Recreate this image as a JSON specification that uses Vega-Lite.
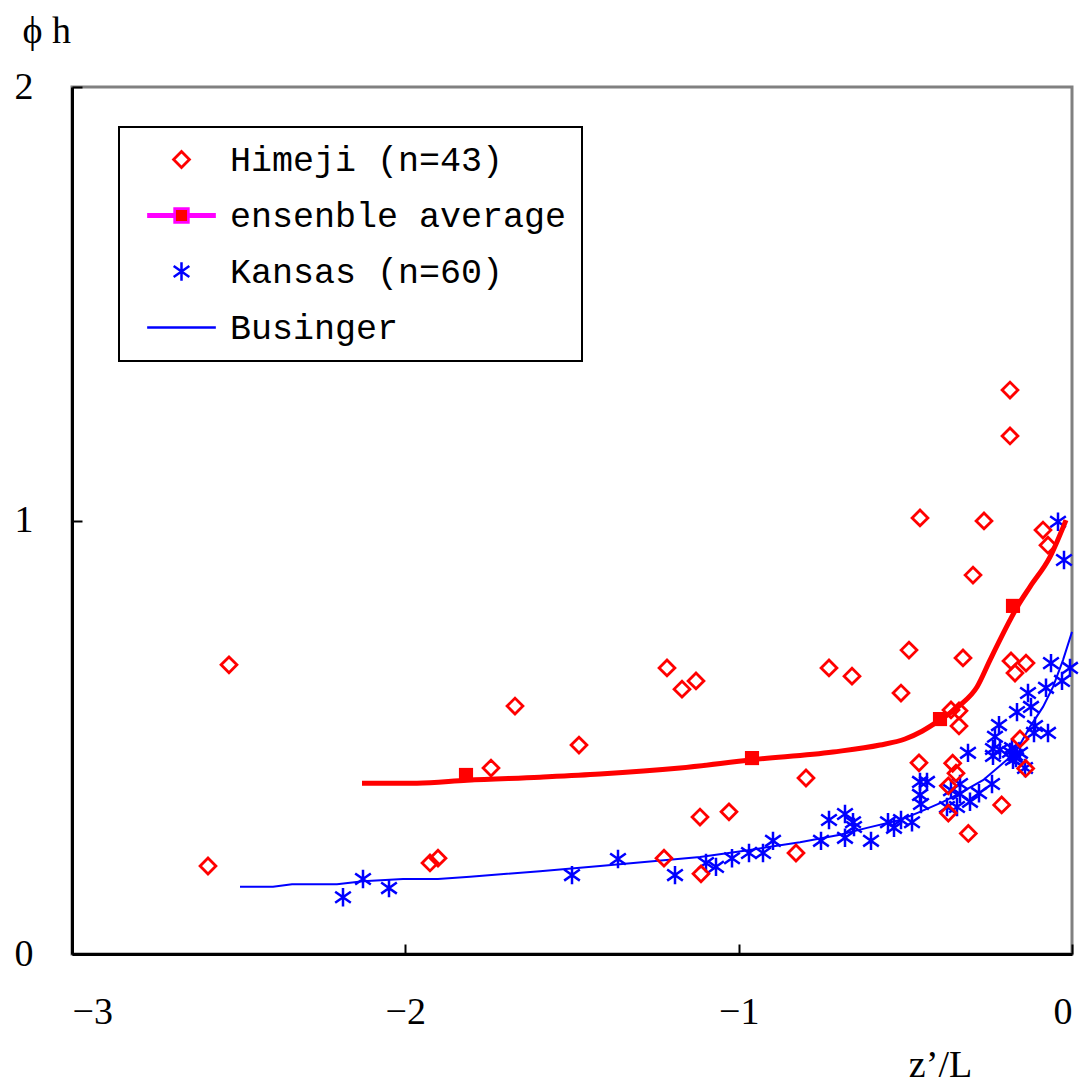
{
  "$schema": "https://vega.github.io/schema/vega-lite/v6.json",
  "width": 1000,
  "height": 867,
  "autosize": "none",
  "padding": {"left": 72, "top": 87, "right": 11, "bottom": 134},
  "background": "white",
  "config": {
    "view": {"stroke": "#808080", "strokeWidth": 3},
    "legend": {"strokeWidth": 2},
    "axis": {
      "grid": false,
      "domainColor": "black",
      "domainWidth": 3,
      "tickColor": "black",
      "tickWidth": 2,
      "tickSize": -10,
      "labelOverlap": false,
      "labelFont": "Liberation Serif",
      "labelFontSize": 38,
      "labelColor": "black",
      "titleFont": "Liberation Serif",
      "titleFontSize": 38,
      "titleFontWeight": "normal",
      "titleColor": "black"
    }
  },
  "datasets": {
    "himeji": [
      {"zL": -2.529, "phi": 0.667}, {"zL": -2.592, "phi": 0.203}, {"zL": -1.743, "phi": 0.429},
      {"zL": -1.671, "phi": 0.572}, {"zL": -1.479, "phi": 0.482}, {"zL": -1.926, "phi": 0.210},
      {"zL": -1.902, "phi": 0.221}, {"zL": -1.215, "phi": 0.660}, {"zL": -1.170, "phi": 0.611},
      {"zL": -1.128, "phi": 0.630}, {"zL": -1.224, "phi": 0.221}, {"zL": -1.116, "phi": 0.316},
      {"zL": -1.113, "phi": 0.185}, {"zL": -1.029, "phi": 0.328}, {"zL": -0.798, "phi": 0.406},
      {"zL": -0.729, "phi": 0.660}, {"zL": -0.660, "phi": 0.641}, {"zL": -0.828, "phi": 0.233},
      {"zL": -0.513, "phi": 0.602}, {"zL": -0.489, "phi": 0.701}, {"zL": -0.456, "phi": 1.006},
      {"zL": -0.459, "phi": 0.441}, {"zL": -0.186, "phi": 1.301}, {"zL": -0.186, "phi": 1.195},
      {"zL": -0.264, "phi": 0.999}, {"zL": -0.297, "phi": 0.874}, {"zL": -0.087, "phi": 0.978},
      {"zL": -0.072, "phi": 0.943}, {"zL": -0.327, "phi": 0.683}, {"zL": -0.183, "phi": 0.676},
      {"zL": -0.138, "phi": 0.671}, {"zL": -0.171, "phi": 0.648}, {"zL": -0.363, "phi": 0.563},
      {"zL": -0.339, "phi": 0.561}, {"zL": -0.339, "phi": 0.526}, {"zL": -0.358, "phi": 0.440},
      {"zL": -0.348, "phi": 0.417}, {"zL": -0.371, "phi": 0.388}, {"zL": -0.371, "phi": 0.325},
      {"zL": -0.211, "phi": 0.344}, {"zL": -0.311, "phi": 0.278}, {"zL": -0.156, "phi": 0.496},
      {"zL": -0.139, "phi": 0.428}
    ],
    "kansas": [
      {"zL": -2.187, "phi": 0.131}, {"zL": -2.127, "phi": 0.173}, {"zL": -2.049, "phi": 0.152},
      {"zL": -1.500, "phi": 0.182}, {"zL": -1.362, "phi": 0.219}, {"zL": -1.191, "phi": 0.182},
      {"zL": -1.098, "phi": 0.210}, {"zL": -1.068, "phi": 0.201}, {"zL": -1.020, "phi": 0.221},
      {"zL": -0.969, "phi": 0.233}, {"zL": -0.927, "phi": 0.233}, {"zL": -0.897, "phi": 0.261},
      {"zL": -0.753, "phi": 0.261}, {"zL": -0.729, "phi": 0.309}, {"zL": -0.681, "phi": 0.323},
      {"zL": -0.657, "phi": 0.304}, {"zL": -0.654, "phi": 0.293}, {"zL": -0.681, "phi": 0.268},
      {"zL": -0.603, "phi": 0.261}, {"zL": -0.552, "phi": 0.304}, {"zL": -0.534, "phi": 0.291},
      {"zL": -0.513, "phi": 0.309}, {"zL": -0.480, "phi": 0.304}, {"zL": -0.456, "phi": 0.397},
      {"zL": -0.435, "phi": 0.397}, {"zL": -0.456, "phi": 0.367}, {"zL": -0.453, "phi": 0.346},
      {"zL": -0.375, "phi": 0.339}, {"zL": -0.363, "phi": 0.378}, {"zL": -0.336, "phi": 0.392},
      {"zL": -0.336, "phi": 0.369}, {"zL": -0.345, "phi": 0.339}, {"zL": -0.306, "phi": 0.351},
      {"zL": -0.279, "phi": 0.371}, {"zL": -0.240, "phi": 0.392}, {"zL": -0.312, "phi": 0.464},
      {"zL": -0.237, "phi": 0.473}, {"zL": -0.237, "phi": 0.457}, {"zL": -0.216, "phi": 0.471},
      {"zL": -0.231, "phi": 0.501}, {"zL": -0.219, "phi": 0.528}, {"zL": -0.186, "phi": 0.466},
      {"zL": -0.171, "phi": 0.459}, {"zL": -0.156, "phi": 0.464}, {"zL": -0.141, "phi": 0.429},
      {"zL": -0.165, "phi": 0.558}, {"zL": -0.132, "phi": 0.602}, {"zL": -0.123, "phi": 0.570},
      {"zL": -0.111, "phi": 0.526}, {"zL": -0.114, "phi": 0.510}, {"zL": -0.072, "phi": 0.510},
      {"zL": -0.078, "phi": 0.614}, {"zL": -0.030, "phi": 0.630}, {"zL": -0.063, "phi": 0.671},
      {"zL": -0.006, "phi": 0.660}, {"zL": -0.042, "phi": 0.997}, {"zL": -0.024, "phi": 0.909},
      {"zL": -0.180, "phi": 0.475}, {"zL": -0.168, "phi": 0.452}, {"zL": -0.177, "phi": 0.448}
    ],
    "businger": [
      {"zL": -2.496, "phi": 0.155}, {"zL": -2.397, "phi": 0.155}, {"zL": -2.340, "phi": 0.161},
      {"zL": -2.205, "phi": 0.161}, {"zL": -2.127, "phi": 0.168}, {"zL": -2.007, "phi": 0.173},
      {"zL": -1.902, "phi": 0.173}, {"zL": -1.806, "phi": 0.178}, {"zL": -1.695, "phi": 0.185},
      {"zL": -1.596, "phi": 0.191}, {"zL": -1.416, "phi": 0.203}, {"zL": -1.116, "phi": 0.224},
      {"zL": -0.966, "phi": 0.240}, {"zL": -0.816, "phi": 0.258}, {"zL": -0.696, "phi": 0.275},
      {"zL": -0.615, "phi": 0.291}, {"zL": -0.516, "phi": 0.309}, {"zL": -0.465, "phi": 0.325},
      {"zL": -0.387, "phi": 0.351}, {"zL": -0.336, "phi": 0.371}, {"zL": -0.267, "phi": 0.401},
      {"zL": -0.195, "phi": 0.448}, {"zL": -0.165, "phi": 0.471}, {"zL": -0.126, "phi": 0.524},
      {"zL": -0.087, "phi": 0.570}, {"zL": -0.057, "phi": 0.616}, {"zL": -0.027, "phi": 0.678},
      {"zL": 0.000, "phi": 0.743}
    ],
    "ensembleCurve": [
      {"zL": -2.130, "phi": 0.394}, {"zL": -1.965, "phi": 0.394}, {"zL": -1.815, "phi": 0.401},
      {"zL": -1.596, "phi": 0.408}, {"zL": -1.416, "phi": 0.415}, {"zL": -1.176, "phi": 0.429},
      {"zL": -0.960, "phi": 0.448}, {"zL": -0.717, "phi": 0.466}, {"zL": -0.576, "phi": 0.482},
      {"zL": -0.501, "phi": 0.496}, {"zL": -0.450, "phi": 0.514}, {"zL": -0.396, "phi": 0.540},
      {"zL": -0.336, "phi": 0.574}, {"zL": -0.285, "phi": 0.616}, {"zL": -0.246, "phi": 0.678},
      {"zL": -0.186, "phi": 0.770}, {"zL": -0.165, "phi": 0.800}, {"zL": -0.126, "phi": 0.847},
      {"zL": -0.066, "phi": 0.916}, {"zL": -0.018, "phi": 1.001}
    ],
    "ensembleMean": [
      {"zL": -1.818, "phi": 0.413}, {"zL": -0.960, "phi": 0.452},
      {"zL": -0.396, "phi": 0.542}, {"zL": -0.177, "phi": 0.803}
    ]
  },
  "layer": [
    {
      "mark": {"type": "rule", "color": "black", "strokeWidth": 2},
      "encoding": {"y": {"datum": 1, "type": "quantitative"}}
    },
    {
      "data": {"name": "businger"},
      "mark": {"type": "line", "color": "#0000ff", "strokeWidth": 2},
      "encoding": {
        "x": {"field": "zL", "type": "quantitative"},
        "y": {"field": "phi", "type": "quantitative"}
      }
    },
    {
      "data": {"name": "kansas"},
      "mark": {"type": "point", "filled": false, "opacity": 1},
      "encoding": {
        "x": {"field": "zL", "type": "quantitative"},
        "y": {"field": "phi", "type": "quantitative"},
        "shape": {
          "datum": "Kansas (n=60)", "type": "nominal",
          "scale": {
            "domain": ["Himeji (n=43)", "ensenble average", "Kansas (n=60)", "Businger"],
            "range": [
              "diamond",
              "M-4,-0.15L-0.8,-0.15M0.8,-0.15L4,-0.15M-4,0L-0.8,0M0.8,0L4,0M-4,0.15L-0.8,0.15M0.8,0.15L4,0.15M-0.8,-0.8L0.8,-0.8L0.8,0.8L-0.8,0.8Z",
              "M0,-1L0,1M-0.85,-0.6L0.85,0.6M-0.85,0.6L0.85,-0.6",
              "M-3.5,0L3.5,0"
            ]
          },
          "legend": {
            "title": null,
            "orient": "none",
            "legendX": 47,
            "legendY": 40,
            "direction": "vertical",
            "strokeColor": "black",
            "fillColor": "white",
            "padding": 15,
            "labelFont": "Liberation Mono",
            "labelFontSize": 35,
            "labelColor": "black",
            "labelLimit": 0,
            "labelOffset": 31,
            "symbolOffset": 30,
            "rowPadding": 20
          }
        },
        "stroke": {
          "datum": "Kansas (n=60)", "type": "nominal",
          "scale": {
            "domain": ["Himeji (n=43)", "ensenble average", "Kansas (n=60)", "Businger"],
            "range": ["#ff0000", "#ff00ff", "#0000ff", "#0000ff"]
          }
        },
        "fill": {
          "datum": "Kansas (n=60)", "type": "nominal",
          "scale": {
            "domain": ["Himeji (n=43)", "ensenble average", "Kansas (n=60)", "Businger"],
            "range": ["transparent", "#ff0000", "transparent", "transparent"]
          }
        },
        "size": {
          "datum": "Kansas (n=60)", "type": "nominal",
          "scale": {
            "domain": ["Himeji (n=43)", "ensenble average", "Kansas (n=60)", "Businger"],
            "range": [250, 385]
          }
        },
        "strokeWidth": {
          "datum": "Kansas (n=60)", "type": "nominal",
          "scale": {
            "domain": ["Himeji (n=43)", "ensenble average", "Kansas (n=60)", "Businger"],
            "range": [2.8, 2.35]
          }
        }
      }
    },
    {
      "data": {"name": "himeji"},
      "mark": {"type": "point", "filled": false, "opacity": 1},
      "encoding": {
        "x": {
          "field": "zL", "type": "quantitative",
          "scale": {"domain": [-3, 0], "nice": false, "zero": false},
          "axis": {
            "values": [-3, -2, -1, 0],
            "labelExpr": "replace('' + datum.value, '-', '−')",
            "labelOverlap": false,
            "labelPadding": 49,
            "title": "z’/L",
            "titleAlign": "center",
            "titleBaseline": "alphabetic",
            "titleX": 868,
            "titleY": 122
          }
        },
        "y": {
          "field": "phi", "type": "quantitative",
          "scale": {"domain": [0, 2], "nice": false},
          "axis": {
            "values": [0, 1, 2],
            "labelExpr": "'' + datum.value",
            "labelOverlap": false,
            "labelPadding": 49,
            "labelBaseline": "middle",
            "title": "ϕ   h",
            "titleAngle": 0,
            "titleAlign": "left",
            "titleBaseline": "alphabetic",
            "titleX": -50,
            "titleY": -45,
            "titleFontSize": 38
          }
        },
        "shape": {"datum": "Himeji (n=43)", "type": "nominal"},
        "stroke": {"datum": "Himeji (n=43)", "type": "nominal"},
        "fill": {"datum": "Himeji (n=43)", "type": "nominal"},
        "size": {"datum": "Himeji (n=43)", "type": "nominal"},
        "strokeWidth": {"datum": "Himeji (n=43)", "type": "nominal"}
      }
    },
    {
      "data": {"name": "ensembleCurve"},
      "mark": {"type": "line", "color": "#ff0000", "strokeWidth": 5, "interpolate": "monotone"},
      "encoding": {
        "x": {"field": "zL", "type": "quantitative"},
        "y": {"field": "phi", "type": "quantitative"}
      }
    },
    {
      "data": {"name": "ensembleMean"},
      "mark": {"type": "point", "shape": "square", "filled": true, "color": "#ff0000", "size": 200, "opacity": 1},
      "encoding": {
        "x": {"field": "zL", "type": "quantitative"},
        "y": {"field": "phi", "type": "quantitative"}
      }
    }
  ]
}
